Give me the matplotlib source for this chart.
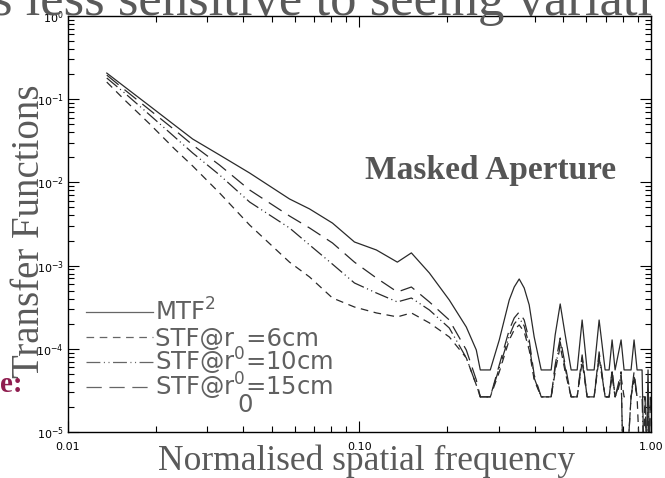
import matplotlib
matplotlib.use("Agg")
import matplotlib.pyplot as plt
from matplotlib.lines import Line2D
from matplotlib.ticker import LogLocator, FixedLocator, FixedFormatter, NullFormatter

plt.rcParams['lines.scale_dashes'] = False

# normalised spatial frequency (shared sampling for all curves)
freq = [0.0136, 0.01567, 0.0191, 0.02325, 0.0268, 0.03314, 0.04201, 0.05757, 0.06744, 0.08081,
        0.09614, 0.1143, 0.1349, 0.1507, 0.1737, 0.2033, 0.2325, 0.2516, 0.2597, 0.281,
        0.3017, 0.3264, 0.3395, 0.3531, 0.3673, 0.3821, 0.3974, 0.4201, 0.4545, 0.4691,
        0.4881, 0.5077, 0.5321, 0.558, 0.5804, 0.6037, 0.638, 0.6637, 0.6959, 0.7182,
        0.7353, 0.7529, 0.7709, 0.7894, 0.8083, 0.854, 0.8746, 0.8957, 0.9316, 0.9539,
        0.9766, 0.995]

mtf2 = [0.205, 0.140, 0.0824, 0.0485, 0.0331, 0.0213, 0.01294, 0.00631, 0.00479, 0.00324,
        0.00192, 0.00154, 0.00110, 0.00142, 0.000815, 0.000386, 0.000183, 9.7e-5, 5.58e-5, 5.58e-5,
        1.28e-4, 3.86e-4, 5.53e-4, 6.90e-4, 5.38e-4, 3.37e-4, 1.39e-4, 5.58e-5, 5.58e-5, 1.47e-4,
        3.46e-4, 1.47e-4, 5.58e-5, 5.58e-5, 2.22e-4, 5.58e-5, 5.58e-5, 2.22e-4, 5.58e-5, 5.58e-5,
        1.28e-4, 5.58e-5, 8.45e-5, 1.28e-4, 5.58e-5, 5.58e-5, 1.28e-4, 5.58e-5, 5.58e-5, 1e-6,
        5.58e-5, 1e-6]

stf_15 = [0.194, 0.129, 0.0738, 0.0425, 0.0281, 0.0161, 0.00809, 0.00394, 0.00283, 0.00187,
          0.00110, 0.000710, 0.000482, 0.000553, 0.000366, 0.000222, 9.7e-5, 4.24e-5, 2.65e-5, 2.65e-5,
          6.41e-5, 1.69e-4, 2.35e-4, 2.77e-4, 2.22e-4, 1.28e-4, 4.86e-5, 2.65e-5, 2.65e-5, 6.41e-5,
          1.35e-4, 6.41e-5, 2.65e-5, 2.65e-5, 8.45e-5, 2.65e-5, 2.65e-5, 9.2e-5, 2.65e-5, 2.65e-5,
          5.58e-5, 2.65e-5, 3.69e-5, 5.3e-5, 1e-6, 2.65e-5, 5.3e-5, 2.65e-5, 2.65e-5, 2.65e-5,
          1e-6, 2.65e-5]

stf_10 = [0.179, 0.118, 0.0643, 0.0350, 0.0225, 0.01225, 0.00580, 0.00283, 0.00177, 0.00104,
          0.000618, 0.000469, 0.000366, 0.000408, 0.000293, 0.000178, 7.8e-5, 3.69e-5, 2.65e-5, 2.65e-5,
          5.9e-5, 1.43e-4, 1.99e-4, 2.35e-4, 1.88e-4, 1.11e-4, 4.48e-5, 2.65e-5, 2.65e-5, 5.9e-5,
          1.21e-4, 5.9e-5, 2.65e-5, 2.65e-5, 7.8e-5, 2.65e-5, 2.65e-5, 8.2e-5, 2.65e-5, 2.65e-5,
          5.3e-5, 2.65e-5, 3.4e-5, 5.0e-5, 1e-6, 2.65e-5, 4.8e-5, 2.65e-5, 2.65e-5, 1e-6,
          2.65e-5, 1e-6]

stf_6 = [0.160, 0.0973, 0.0501, 0.0251, 0.0157, 0.00745, 0.00307, 0.00110, 0.000730, 0.000408,
         0.000318, 0.000270, 0.000242, 0.000270, 0.000205, 0.000139, 7.8e-5, 3.69e-5, 2.65e-5, 2.65e-5,
         5.28e-5, 1.28e-4, 1.69e-4, 1.94e-4, 1.60e-4, 9.7e-5, 4.24e-5, 2.65e-5, 2.65e-5, 5.28e-5,
         1.08e-4, 5.28e-5, 2.65e-5, 2.65e-5, 7.0e-5, 2.65e-5, 2.65e-5, 7.8e-5, 2.65e-5, 2.65e-5,
         4.7e-5, 2.65e-5, 3.2e-5, 4.6e-5, 2.65e-5, 2.65e-5, 4.24e-5, 2.65e-5, 1e-6, 2.65e-5,
         1e-6, 2.65e-5]

labels = ['MTF$^2$', 'STF@r\u2002=6cm', 'STF@r$^0$=10cm', 'STF@r$^0$=15cm']

x_ticks = [0.01, 0.1, 1.0]
x_ticklabels = ['0.01', '0.10', '1.00']

line_col = '#2a2a2a'
text_gray = '#5a5a5a'
styles = ['-', (0, (5.5, 4)), (0, (10, 2.5, 0.8, 2.5, 0.8, 2.5)), (0, (11, 5.5))]
series = [mtf2, stf_6, stf_10, stf_15]

fig = plt.figure(figsize=(6.65, 4.78), dpi=100)
ax = fig.add_axes([0.102, 0.096, 0.877, 0.871])

for vals, ls in zip(series, styles):
    ax.plot(freq, vals, color=line_col, lw=0.9, linestyle=ls)

ax.set_xscale('log')
ax.set_yscale('log')
ax.set_xlim(0.01, 1.0)
ax.set_ylim(1e-5, 1.0)

ax.xaxis.set_major_locator(FixedLocator(x_ticks))
ax.xaxis.set_major_formatter(FixedFormatter(x_ticklabels))
ax.xaxis.set_minor_locator(LogLocator(base=10, subs=range(2, 10)))
ax.xaxis.set_minor_formatter(NullFormatter())
ax.yaxis.set_major_locator(LogLocator(base=10, numticks=10))
ax.yaxis.set_minor_locator(LogLocator(base=10, subs=range(2, 10), numticks=20))
ax.yaxis.set_minor_formatter(NullFormatter())

ax.tick_params(which='both', direction='in', top=True, right=True, width=0.8, colors='black',
               labelsize=8)
ax.tick_params(which='major', length=8)
ax.tick_params(which='minor', length=4.5)
ax.tick_params(axis='x', pad=7)
ax.tick_params(axis='y', pad=3)
for sp in ax.spines.values():
    sp.set_linewidth(1.0)

# legend drawn IDL-style: sample line then text, one row each
leg_rows = [0.288, 0.228, 0.168, 0.108]
for ls, lab, yr in zip(styles, labels, leg_rows):
    ax.add_line(Line2D([0.031, 0.146], [yr, yr], transform=ax.transAxes, color='#666666',
                       lw=0.9, linestyle=ls, clip_on=False))
    ax.text(0.149, yr - 0.021, lab, transform=ax.transAxes, fontsize=17.5, color='#606060',
            ha='left', va='baseline')
ax.text(0.304, 0.065, '0', transform=ax.transAxes, fontsize=17.5, color='#606060',
        ha='center', va='center')

ax.text(0.724, 0.629, 'Masked Aperture', transform=ax.transAxes, family='Liberation Serif',
        fontsize=24, fontweight='bold', color='#555555', ha='center', va='center')

fig.text(366 / 665, 1 - 470 / 478, 'Normalised spatial frequency', family='Liberation Serif',
         fontsize=25.5, color=text_gray, ha='center', va='baseline')
fig.text(30 / 665, 1 - 231 / 478, 'Transfer Functions', family='Liberation Serif',
         fontsize=28, color=text_gray, rotation=90, ha='center', va='center')
fig.text(-0.012, 1 - 15 / 478, 's less sensitive to seeing variati', family='Liberation Serif',
         fontsize=38, color=text_gray, ha='left', va='baseline')
fig.text(0.0, 1 - 385 / 478, 'e:', family='Liberation Serif', fontsize=21,
         fontweight='bold', color='#8f1d4f', ha='left', va='center')

fig.savefig('out.png', dpi=100)
